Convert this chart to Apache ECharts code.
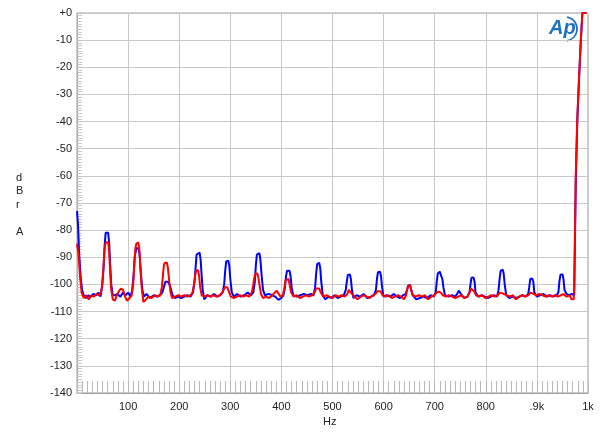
<!DOCTYPE html>
<html>
<head>
<meta charset="utf-8">
<script src="https://cdn.jsdelivr.net/npm/echarts@6/dist/echarts.min.js"></script>
<style>html,body{margin:0;padding:0;background:#fff}#c{width:600px;height:438px}</style>
</head>
<body>
<div id="c"></div>
<script>
var xTicks = [0,100,200,300,400,500,600,700,800,900,1000];
var xTickLabels = ['', '100','200','300','400','500','600','700','800','.9k','1k'];
var yTicks = [0,-10,-20,-30,-40,-50,-60,-70,-80,-90,-100,-110,-120,-130,-140];
var yTickLabels = ['+0','-10','-20','-30','-40','-50','-60','-70','-80','-90','-100','-110','-120','-130','-140'];

// [Hz, dBr A]
var blueSeries = [[0,-73],[2,-78],[4,-88],[7,-97],[10,-102],[13,-104],[18,-105],[22,-104],[27,-104.5],[32,-103.5],[37,-104],[42,-103],[46,-104.5],[49,-101],[52,-94],[54,-86],[56,-81],[61,-81],[63,-85],[65,-93],[67,-100],[70,-104],[74,-104],[79,-103.5],[85,-104.5],[90,-103],[95,-104],[100,-103],[105,-104.5],[108,-102],[111,-96],[113,-90],[116,-86.5],[121,-87],[123,-90],[125,-96],[128,-102],[131,-104.5],[136,-103.5],[142,-105],[150,-104],[156,-104.5],[162,-104],[167,-103],[170,-101],[173,-99],[178,-99],[181,-100],[184,-102],[187,-104],[192,-105],[198,-104.5],[204,-105],[210,-104.5],[216,-104],[222,-104.5],[227,-103],[230,-99],[232,-94],[234,-89],[236,-88.3],[240,-88.3],[242,-91],[244,-97],[246,-102],[249,-105.5],[255,-104],[262,-104.5],[268,-103.5],[275,-104.5],[280,-104],[285,-103],[288,-100],[290,-95],[292,-91.5],[296,-91.3],[298,-93],[300,-98],[303,-103],[307,-104.5],[313,-103.5],[320,-104.5],[327,-104],[334,-103],[340,-104],[345,-103],[348,-99],[350,-93],[352,-89],[357,-88.5],[359,-91],[361,-96],[364,-102],[368,-104],[375,-103.5],[382,-104],[388,-104.5],[394,-105.7],[400,-105],[404,-104],[407,-101],[409,-97],[411,-95],[416,-95],[418,-97],[420,-101],[423,-104],[430,-104.5],[437,-104],[444,-103.5],[451,-104],[458,-103.5],[463,-104],[466,-101],[468,-96],[470,-92.5],[474,-92],[476,-94],[478,-99],[481,-104],[486,-105.5],[492,-104.5],[498,-105],[504,-104],[510,-105],[516,-104.5],[522,-104],[526,-102],[528,-99],[530,-96.5],[534,-96.3],[536,-98],[538,-102],[541,-105],[547,-104],[554,-104.5],[561,-103.5],[568,-105],[575,-104.5],[581,-104],[585,-102],[587,-98],[589,-95.5],[593,-95.3],[595,-97],[597,-101],[600,-104.5],[606,-104],[613,-104.5],[620,-103.5],[626,-104.5],[632,-105],[638,-104],[643,-103.5],[646,-102],[648,-100.5],[652,-100.2],[654,-102],[657,-104],[664,-105.5],[671,-105],[678,-104.5],[685,-105],[692,-104],[698,-104.5],[702,-103],[704,-99],[706,-96],[710,-95.3],[712,-96.5],[715,-98],[717,-101],[720,-104],[727,-104.5],[734,-104],[740,-104.5],[744,-103.5],[747,-102.3],[750,-102.5],[753,-104],[758,-105],[764,-104.5],[768,-103],[770,-100],[772,-97.5],[776,-97.4],[778,-99],[780,-103],[785,-104.5],[792,-104],[798,-104.5],[804,-105],[810,-104.5],[816,-104],[822,-104.5],[825,-102],[827,-98],[829,-95],[833,-94.5],[835,-96],[837,-100],[840,-104],[846,-105],[853,-104.5],[860,-105],[866,-104.5],[872,-104],[878,-104.5],[883,-103.5],[885,-101],[887,-98],[891,-97.8],[893,-99],[895,-103],[900,-104.5],[906,-104],[913,-103.5],[920,-104.5],[926,-104],[932,-104.5],[938,-104],[942,-103],[944,-99],[946,-96.5],[950,-96.2],[952,-98],[954,-102],[958,-103.5],[963,-104],[968,-103.5],[973,-104],[975,-104.5],[976,-63],[978.5,-63],[979,-40],[982,-40],[983,-22],[985,-22],[986,-10],[988,-10],[989,0],[997,0]];

var redSeries = [[0,-85],[3,-89],[6,-97],[9,-103],[13,-105],[18,-104],[23,-105.5],[28,-104],[33,-104.5],[38,-103.5],[43,-104],[47,-103],[50,-99],[52,-93],[54,-87],[56,-84.5],[61,-84.5],[63,-88],[65,-96],[67,-102],[70,-105.5],[74,-106],[78,-104],[82,-102.5],[86,-101.5],[90,-102],[94,-104.5],[98,-106],[103,-105],[107,-104],[110,-100],[112,-93],[114,-87],[116,-85],[120,-84.5],[122,-87],[124,-94],[127,-102],[130,-106.5],[135,-105.5],[140,-104.5],[146,-105],[152,-104],[158,-104.5],[163,-104],[166,-101],[168,-97],[170,-93],[172,-92],[176,-92],[178,-94],[180,-98],[183,-103],[186,-105],[192,-104.5],[198,-104],[204,-104.5],[210,-104],[216,-104.5],[222,-104],[226,-103],[229,-100],[231,-97],[233,-95],[237,-94.7],[239,-97],[241,-101],[244,-104],[249,-104.5],[255,-104],[261,-104.5],[267,-104],[273,-104.5],[279,-104],[284,-103],[287,-102],[290,-101],[294,-101],[297,-102.5],[301,-104.5],[307,-105],[313,-104.5],[319,-104],[325,-104.5],[331,-104],[337,-104.5],[342,-103],[345,-100],[347,-97.5],[349,-96],[353,-96],[355,-97.5],[357,-100],[360,-103.5],[364,-105],[370,-104.5],[376,-105],[382,-104],[387,-103],[391,-102.3],[394,-103],[398,-104.5],[403,-104],[406,-101],[408,-98.5],[410,-97.8],[414,-98],[416,-100],[419,-103],[424,-104.5],[430,-104],[436,-105],[442,-104.5],[448,-104],[454,-104.5],[460,-104],[465,-103],[468,-101.5],[471,-101],[474,-101.5],[477,-103],[482,-104.5],[488,-104],[494,-104.5],[500,-105],[506,-104],[512,-104.5],[518,-104],[524,-104.5],[529,-103.5],[532,-102],[535,-102],[538,-103.5],[543,-104.5],[549,-105.5],[555,-104.5],[561,-104],[567,-104.5],[573,-105],[579,-104],[584,-103.5],[588,-102.5],[591,-101.8],[594,-102.5],[598,-104],[604,-104.5],[610,-104],[616,-105],[622,-104.5],[628,-104],[634,-104.5],[640,-105.5],[644,-104],[646,-102],[648,-100.5],[652,-100.5],[654,-102],[657,-104],[663,-104.5],[669,-104],[675,-104.5],[681,-104],[687,-105.5],[693,-104.5],[699,-104],[704,-103],[708,-102.7],[712,-103],[716,-104],[722,-104.5],[728,-104],[734,-104.5],[740,-105],[746,-104.5],[752,-104],[758,-105],[764,-104.5],[768,-103],[771,-101.5],[774,-101.4],[777,-102.5],[781,-104],[787,-104.5],[793,-104],[799,-105],[805,-104.5],[811,-104],[817,-104.5],[823,-104],[828,-103],[831,-102.8],[835,-103.5],[841,-104],[847,-104.5],[853,-104],[859,-105.5],[865,-104.5],[871,-104],[877,-104.5],[883,-104],[887,-103],[890,-102.7],[893,-103.5],[899,-104],[905,-103.5],[911,-104],[917,-104.5],[923,-104],[929,-104.5],[935,-104],[941,-104.5],[947,-104],[952,-103.5],[958,-104.5],[964,-104],[968,-105.5],[972,-105.5],[973,-101.3],[975,-101],[976,-60],[978,-60],[979,-39],[982,-39],[983,-21.6],[985,-21.6],[986,-10],[988,-10],[989,0],[997,0]];

var chart = echarts.init(document.getElementById('c'), null, {renderer:'canvas'});
var labelFont = {fontFamily:'Liberation Sans, Arial, sans-serif', fontSize:11, color:'#222'};
chart.setOption({
  animation:false,
  backgroundColor:'#fff',
  grid:{left:77, right:12, top:13, bottom:45, show:true, borderColor:'#a0a0a0', borderWidth:1},
  xAxis:{
    type:'value', min:0, max:1000, interval:100,
    axisLine:{show:true, onZero:false, lineStyle:{color:'#a0a0a0'}},
    axisTick:{show:true, inside:true, length:12, lineStyle:{color:'#b8b8b8'}},
    minorTick:{show:true, splitNumber:10, length:12, lineStyle:{color:'#b8b8b8'}},
    splitLine:{show:true, lineStyle:{color:'#c8c8c8'}},
    axisLabel:Object.assign({margin:8, formatter:function(v){ var i=xTicks.indexOf(v); return i>=0?xTickLabels[i]:''; }}, labelFont)
  },
  yAxis:{
    type:'value', min:-140, max:0, interval:10,
    axisLine:{show:true, onZero:false, lineStyle:{color:'#a0a0a0'}},
    axisTick:{show:true, inside:true, length:5, lineStyle:{color:'#c0c0c0'}},
    minorTick:{show:true, splitNumber:10, length:5, lineStyle:{color:'#c8c8c8'}},
    splitLine:{show:true, lineStyle:{color:'#c8c8c8'}},
    axisLabel:Object.assign({margin:5, formatter:function(v){ var i=yTicks.indexOf(v); return i>=0?yTickLabels[i]:''; }}, labelFont)
  },
  series:[
    {type:'line', data:blueSeries, showSymbol:false, lineStyle:{color:'#0000ff', width:2}, itemStyle:{color:'#0000ff'}},
    {type:'line', data:redSeries, showSymbol:false, lineStyle:{color:'#ff0000', width:2}, itemStyle:{color:'#ff0000'}}
  ],
  graphic:[
    {type:'text', left:16, top:171, style:{text:'d\nB\nr\n\nA', fontFamily:'Liberation Sans, Arial, sans-serif', fontSize:11, lineHeight:13.5, fill:'#222', align:'center'}},
    {type:'text', left:323, top:416, style:{text:'Hz', fontFamily:'Liberation Sans, Arial, sans-serif', fontSize:11, fill:'#222'}},
    {type:'arc', shape:{cx:565, cy:29, r:12, startAngle:-1.4, endAngle:1.4}, style:{stroke:'#1f72bd', lineWidth:1.8, fill:null}},
    {type:'text', left:549, top:18, style:{text:'Ap', fontFamily:'Liberation Sans, Arial, sans-serif', fontSize:20, fontStyle:'italic', fontWeight:'bold', fill:'#1f72bd'}}
  ]
});
</script>
</body>
</html>
